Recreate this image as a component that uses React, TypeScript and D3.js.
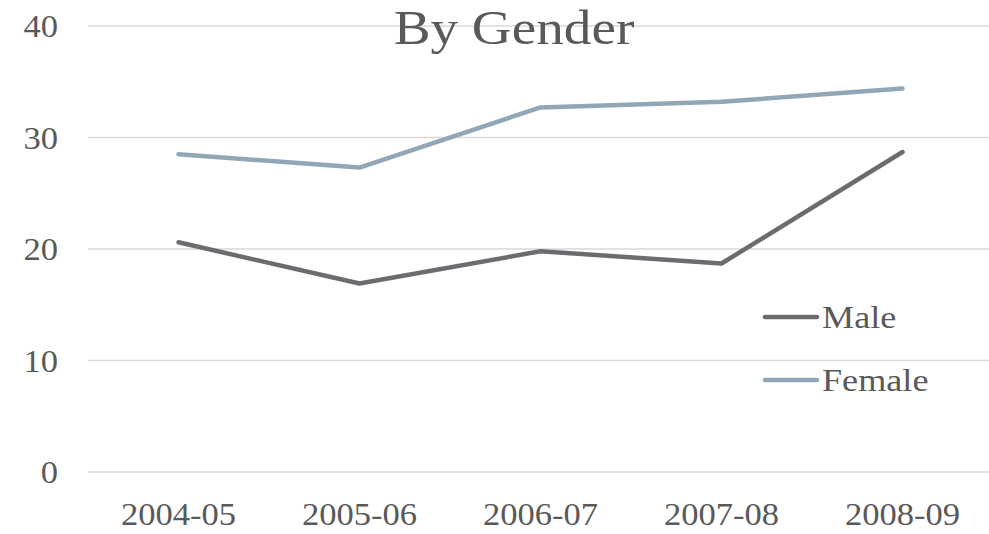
import React, { useRef, useEffect } from 'react';
import * as d3 from 'd3';

// Chart data
const years = ['2004-05', '2005-06', '2006-07', '2007-08', '2008-09'];
const maleValues = [20.6, 16.9, 19.8, 18.7, 28.7];
const femaleValues = [28.5, 27.3, 32.7, 33.2, 34.4];
const yTicks = [0, 10, 20, 30, 40];

const seriesNames = ['Male', 'Female'];
const seriesColors = ['#6d6b70', '#91a7b6'];

const App = () => {
  const svgRef = useRef<SVGSVGElement | null>(null);

  useEffect(() => {
    if (!svgRef.current) return;

    const font = '"Liberation Serif", "Times New Roman", serif';
    const textColor = '#595959';

    const svg = d3.select(svgRef.current);
    svg.selectAll('*').remove();

    const x = d3.scaleBand<string>().domain(years).range([88, 993]);
    const y = d3.scaleLinear().domain([0, 40]).range([472, 26]);

    // widen the serif a little so it looks closer to the original face
    const widen = (sel: d3.Selection<SVGTextElement, any, any, any>, k: number) => {
      sel.each(function () {
        const len = this.getComputedTextLength();
        d3.select(this)
          .attr('textLength', len * k)
          .attr('lengthAdjust', 'spacingAndGlyphs');
      });
    };

    // gridlines
    svg.append('g')
      .selectAll('line')
      .data(yTicks)
      .enter().append('line')
      .attr('x1', 88)
      .attr('x2', 993)
      .attr('y1', d => y(d))
      .attr('y2', d => y(d))
      .attr('stroke', '#d9d9d9')
      .attr('stroke-width', 1.5);

    // y labels
    const yLabels = svg.append('g')
      .selectAll('text')
      .data(yTicks)
      .enter().append('text')
      .attr('x', 58)
      .attr('y', d => y(d) + 11)
      .attr('text-anchor', 'end')
      .attr('font-family', font)
      .attr('font-size', 32)
      .attr('fill', textColor)
      .text(d => d);
    widen(yLabels as any, 1.08);

    // x labels
    const xLabels = svg.append('g')
      .selectAll('text')
      .data(years)
      .enter().append('text')
      .attr('x', d => (x(d) ?? 0) + x.bandwidth() / 2)
      .attr('y', 525)
      .attr('text-anchor', 'middle')
      .attr('font-family', font)
      .attr('font-size', 32)
      .attr('fill', textColor)
      .text(d => d);
    widen(xLabels as any, 1.08);

    // title
    const title = svg.append('text')
      .attr('x', 514)
      .attr('y', 44)
      .attr('text-anchor', 'middle')
      .attr('font-family', font)
      .attr('font-size', 48)
      .attr('fill', textColor)
      .text('By Gender');
    widen(title as any, 1.15);

    // lines
    const line = d3.line<number>()
      .x((_, i) => (x(years[i]) ?? 0) + x.bandwidth() / 2)
      .y(d => y(d));

    [maleValues, femaleValues].forEach((vals, i) => {
      svg.append('path')
        .datum(vals)
        .attr('fill', 'none')
        .attr('stroke', seriesColors[i])
        .attr('stroke-width', 4.5)
        .attr('stroke-linecap', 'round')
        .attr('stroke-linejoin', 'round')
        .attr('d', line);
    });

    // legend
    const legend = svg.append('g')
      .selectAll('g')
      .data(seriesNames)
      .enter().append('g')
      .attr('transform', (_, i) => `translate(765,${317 + i * 63})`);

    legend.append('line')
      .attr('x1', 0)
      .attr('x2', 52)
      .attr('stroke', (_, i) => seriesColors[i])
      .attr('stroke-width', 4.5)
      .attr('stroke-linecap', 'round');

    const legendText = legend.append('text')
      .attr('x', 57)
      .attr('y', 11)
      .attr('font-family', font)
      .attr('font-size', 32)
      .attr('fill', textColor)
      .text(d => d);
    widen(legendText as any, 1.13);
  }, []);

  return (
    <svg
      ref={svgRef}
      width={989}
      height={534}
      style={{ position: 'absolute', left: 0, top: 0, background: '#fff' }}
    ></svg>
  );
};

export default App;
